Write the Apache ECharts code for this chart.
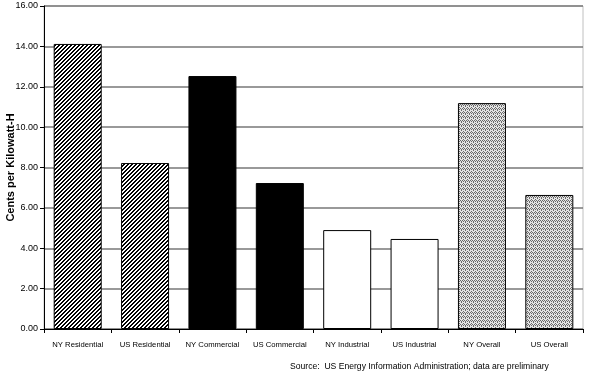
<!DOCTYPE html>
<html>
<head>
<meta charset="utf-8">
<script src="https://cdn.jsdelivr.net/npm/echarts@6/dist/echarts.min.js"></script>
<style>
	html, body { margin: 0; padding: 0; background: #fff; }
	#chart { width: 590px; height: 376px; }
</style>
</head>
<body>
<div id="chart"></div>
<script>
var categories = ["NY Residential", "US Residential", "NY Commercial", "US Commercial",
	"NY Industrial", "US Industrial", "NY Overall", "US Overall"];
var centsPerKwh = [14.12, 8.22, 12.53, 7.23, 4.90, 4.46, 11.19, 6.64];
var fillKind = ["hatch", "hatch", "solid", "solid", "blank", "blank", "dots", "dots"];
var yTicks = [0, 2, 4, 6, 8, 10, 12, 14, 16];

/* diagonal hatch */
function hatchPattern() {
	var c = document.createElement("canvas");
	c.width = 4;
	c.height = 4;
	var ctx = c.getContext("2d");
	ctx.fillStyle = "#fff";
	ctx.fillRect(0, 0, 4, 4);
	ctx.fillStyle = "#000";
	for (var i = 0; i < 4; i++) {
		// stripe going "/" two pixels wide
		var x = (3 - i + 4) % 4;
		ctx.fillRect(x, i, 1, 1);
		ctx.fillRect((x + 1) % 4, i, 1, 1);
	}
	return c;
}

/* fine grey zigzag */
function dotPattern() {
	var c = document.createElement("canvas");
	c.width = 4;
	c.height = 4;
	var ctx = c.getContext("2d");
	ctx.fillStyle = "#e4e4e4";
	ctx.fillRect(0, 0, 4, 4);
	ctx.fillStyle = "#6a6a6a";
	ctx.fillRect(0, 0, 1, 1);
	ctx.fillRect(2, 0, 1, 1);
	ctx.fillRect(1, 1, 1, 1);
	ctx.fillRect(3, 1, 1, 1);
	ctx.fillRect(1, 2, 1, 1);
	ctx.fillRect(3, 3, 1, 1);
	return c;
}

var fills = {
	hatch: { image: hatchPattern(), repeat: "repeat" },
	solid: "#000",
	blank: "#fff",
	dots: { image: dotPattern(), repeat: "repeat" }
};

var barData = centsPerKwh.map(function(v, i) {
	return {
		value: v,
		itemStyle: { color: fills[fillKind[i]] }
	};
});

var chart = echarts.init(document.getElementById("chart"), null, { renderer: "canvas" });
var option = {
	animation: false,
	backgroundColor: "#fff",
	grid: {
		left: 44,
		right: 7,
		top: 6,
		bottom: 47,
		containLabel: false,
		outerBoundsMode: "none",
		show: true,
		borderColor: "#c0c0c0",
		borderWidth: 1
	},
	xAxis: {
		type: "category",
		data: categories,
		axisLine: { show: true, lineStyle: { color: "#000", width: 1 } },
		axisTick: { show: true, alignWithLabel: false, length: 4, lineStyle: { color: "#000" } },
		axisLabel: {
			interval: 0,
			color: "#000",
			fontFamily: "Arial, 'Liberation Sans', sans-serif",
			fontSize: 7.7,
			margin: 12
		}
	},
	yAxis: {
		type: "value",
		min: yTicks[0],
		max: yTicks[yTicks.length - 1],
		interval: 2,
		name: "Cents per Kilowatt-H",
		nameLocation: "middle",
		nameGap: 28,
		nameMoveOverlap: false,
		nameTextStyle: {
			color: "#000",
			fontWeight: "bold",
			fontSize: 11,
			fontFamily: "Arial, 'Liberation Sans', sans-serif"
		},
		axisLine: { show: true, lineStyle: { color: "#000" } },
		axisTick: { show: true, length: 4, lineStyle: { color: "#000" } },
		axisLabel: {
			color: "#000",
			fontSize: 9,
			fontFamily: "Arial, 'Liberation Sans', sans-serif",
			margin: 6,
			formatter: function(v) { return v.toFixed(2); }
		},
		splitLine: { lineStyle: { color: "#777", width: 1.5 } }
	},
	series: [{
		type: "bar",
		data: barData,
		barWidth: 48,
		itemStyle: { borderColor: "#000", borderWidth: 1 }
	}],
	graphic: [{
		type: "text",
		left: 290,
		top: 362,
		style: {
			text: "Source:  US Energy Information Administration; data are preliminary",
			fill: "#000",
			font: "8.6px Arial, 'Liberation Sans', sans-serif"
		}
	}]
};
chart.setOption(option);
</script>
</body>
</html>
